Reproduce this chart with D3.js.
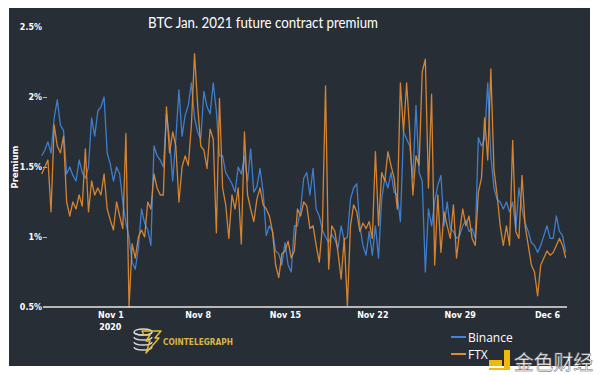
<!DOCTYPE html>
<html>
<head>
<meta charset="utf-8">
<script src="https://cdn.jsdelivr.net/npm/d3@7"></script>
<style>
  body { margin: 0; background: #fff; }
  svg { display: block; }
</style>
</head>
<body>
<svg id="chart" width="600" height="375"></svg>
<script>
// sampled every 6 hours from Oct 26 2020 12:00 UTC
const startTime = Date.UTC(2020, 9, 26, 12);
const stepHours = 6;

const binance = [
  1.58, 1.62, 1.68, 1.60, 1.85, 1.98, 1.80, 1.76, 1.45, 1.50,
  1.44, 1.40, 1.55, 1.46, 1.42, 1.50, 1.85, 1.72, 1.90, 1.93,
  2.00, 1.60, 1.52, 1.40, 1.50, 1.45, 1.25, 1.10, 1.00, 0.82,
  0.77, 0.92, 1.20, 1.10, 1.05, 0.94, 1.65, 1.58, 1.55, 1.50,
  1.88, 1.70, 1.40, 1.70, 2.05, 1.72, 1.87, 1.94, 2.10, 1.85,
  1.75, 1.70, 2.04, 1.93, 1.88, 2.10, 1.90, 1.58, 1.58, 1.46,
  1.42, 1.38, 1.32, 1.50, 1.45, 1.58, 1.40, 1.63, 1.32, 1.36,
  1.49, 1.32, 1.01, 1.08, 1.04, 0.90, 0.88, 0.80, 0.96, 0.80,
  0.75, 1.08, 1.08, 1.20, 1.42, 1.46, 1.30, 1.49, 1.20, 1.15,
  1.05, 1.00, 0.96, 1.02, 0.98, 0.92, 1.08, 0.98, 1.00, 1.27,
  1.35, 1.38, 1.08, 0.94, 0.87, 1.04, 0.87, 1.08, 0.85, 1.27,
  1.42, 1.35, 1.46, 1.32, 1.30, 1.11, 1.75, 1.70, 1.65, 1.42,
  1.94, 1.46, 1.40, 0.75, 1.20, 1.08, 1.25, 1.37, 1.44, 1.08,
  1.25, 1.06, 1.04, 0.99, 1.01, 1.08, 1.12, 1.04, 1.06, 0.99,
  1.71, 1.65, 1.70, 2.10, 1.58, 1.35, 1.27, 1.25, 1.20, 1.25,
  1.18, 1.25, 1.06, 1.35, 1.20, 1.10, 1.04, 0.96, 0.94, 0.89,
  0.94, 1.01, 1.08, 0.99, 0.99, 1.15, 1.04, 1.01, 0.89
];

const ftx = [
  1.45, 1.50, 1.55, 1.18, 1.80, 1.65, 1.60, 1.72, 1.25, 1.15,
  1.25, 1.20, 1.30, 1.22, 1.63, 1.18, 1.40, 1.30, 1.35, 1.30,
  1.45, 1.20, 1.12, 1.05, 1.25, 1.15, 1.06, 1.74, 0.50, 0.95,
  0.85, 1.00, 1.05, 1.00, 1.25, 1.20, 1.45, 1.35, 1.30, 1.30,
  1.93, 1.60, 1.75, 1.65, 1.25, 1.50, 1.58, 1.51, 1.80, 2.31,
  1.94, 1.65, 1.62, 1.49, 1.77, 1.70, 1.03, 1.99, 1.35, 1.23,
  0.99, 1.30, 1.20, 1.35, 0.95, 1.75, 1.30, 1.20, 1.11, 1.27,
  1.35, 1.23, 1.20, 1.15, 1.04, 0.80, 0.71, 0.88, 0.90, 0.97,
  0.85, 0.90, 1.20, 1.15, 1.25, 1.22, 1.06, 1.08, 0.94, 0.82,
  1.08, 2.08, 0.77, 1.08, 1.04, 0.89, 0.70, 0.99, 0.51, 1.08,
  1.23, 1.18, 1.04, 1.10, 1.06, 1.11, 0.99, 1.61, 1.08, 1.46,
  1.40, 1.61, 1.51, 1.42, 1.20, 2.10, 1.75, 2.10, 1.75, 1.30,
  1.58, 1.51, 2.18, 2.27, 1.35, 2.02, 0.80, 1.30, 0.89, 1.18,
  1.08, 0.99, 1.23, 0.85, 1.04, 1.20, 1.08, 1.15, 0.99, 0.94,
  1.32, 1.42, 1.85, 1.55, 2.20, 1.48, 1.30, 1.08, 0.94, 1.08,
  0.94, 1.69, 1.04, 0.99, 1.44, 1.08, 0.94, 0.80, 0.75, 0.58,
  0.80, 0.85, 0.90, 0.87, 0.89, 0.94, 0.99, 0.94, 0.85
];

const yTicks = [0.5, 1, 1.5, 2, 2.5];
const xTicks = [
  Date.UTC(2020, 10, 1), Date.UTC(2020, 10, 8), Date.UTC(2020, 10, 15),
  Date.UTC(2020, 10, 22), Date.UTC(2020, 10, 29), Date.UTC(2020, 11, 6)
];
const seriesNames = ["Binance", "FTX"];
const seriesColors = ["#3f86da", "#e48b30"];

const svg = d3.select("#chart");

// dark panel
svg.append("rect")
  .attr("x", 9).attr("y", 8)
  .attr("width", 581).attr("height", 358)
  .attr("fill", "#282e36");

const x = d3.scaleUtc()
  .domain([startTime, Date.UTC(2020, 11, 7, 12)])
  .range([41.7, 565.7]);

const y = d3.scaleLinear()
  .domain([0.5, 2.5])
  .range([307, 27]);

const timeOf = (i) => startTime + i * stepHours * 3600 * 1000;

// y axis
const yAxis = svg.append("g")
  .attr("transform", "translate(47,0)")
  .call(d3.axisLeft(y).tickValues(yTicks).tickSize(4).tickPadding(1)
    .tickFormat((d) => d + "%"));
yAxis.select(".domain").remove();
yAxis.selectAll(".tick line").attr("stroke", "#bbb")
  .attr("opacity", (d) => (d === 2.5 || d === 0.5) ? 0 : 1);
yAxis.selectAll(".tick text")
  .attr("fill", "#fff")
  .style("font-family", "DejaVu Sans")
  .style("font-weight", "bold")
  .style("font-size", "8px");

// lines
const line = d3.line()
  .x((d, i) => x(timeOf(i)))
  .y((d) => y(d));

[binance, ftx].forEach((values, k) => {
  svg.append("path")
    .datum(values)
    .attr("fill", "none")
    .attr("stroke", seriesColors[k])
    .attr("stroke-width", 1.3)
    .attr("stroke-opacity", 0.92)
    .attr("stroke-linejoin", "round")
    .attr("d", line);
});

// x axis
const xAxis = svg.append("g")
  .attr("transform", "translate(0,307)")
  .call(d3.axisBottom(x).tickValues(xTicks).tickSize(0).tickPadding(5)
    .tickFormat((d) => {
      const t = new Date(d);
      return d3.utcFormat("%b %-d")(t);
    }));
xAxis.select(".domain")
  .attr("d", "M43,0H567")
  .attr("stroke", "#e6e6e6")
  .attr("stroke-width", 1.5);
xAxis.selectAll(".tick text")
  .attr("fill", "#fff")
  .style("font-family", "DejaVu Sans")
  .style("font-weight", "bold")
  .style("font-size", "8px");
svg.append("text")
  .attr("x", x(xTicks[0])).attr("y", 330)
  .attr("text-anchor", "middle")
  .attr("fill", "#fff")
  .style("font-family", "DejaVu Sans")
  .style("font-weight", "bold")
  .style("font-size", "8px")
  .text("2020");

// title
svg.append("text")
  .attr("x", 148).attr("y", 28)
  .attr("fill", "#fff")
  .attr("textLength", 230)
  .attr("lengthAdjust", "spacingAndGlyphs")
  .style("font-family", "Lato")
  .style("font-size", "14.5px")
  .text("BTC Jan. 2021 future contract premium");

// y axis title
svg.append("text")
  .attr("transform", "translate(18,167) rotate(-90)")
  .attr("text-anchor", "middle")
  .attr("fill", "#fff")
  .style("font-family", "DejaVu Sans")
  .style("font-weight", "bold")
  .style("font-size", "8.5px")
  .text("Premium");

// legend
const legend = svg.append("g").attr("transform", "translate(451,337)");
seriesNames.forEach((name, k) => {
  const row = legend.append("g").attr("transform", `translate(0,${k * 17})`);
  row.append("line")
    .attr("x1", 0).attr("x2", 15)
    .attr("stroke", seriesColors[k])
    .attr("stroke-width", 2);
  row.append("text")
    .attr("x", 17).attr("y", 4.5)
    .attr("fill", "#fff")
    .style("font-family", "Open Sans")
    .style("font-size", "12px")
    .text(name);
});

// cointelegraph mark
const logo = svg.append("g").attr("transform", "translate(134,329)");
[0, 5, 10, 15].forEach((dy) => {
  logo.append("path")
    .attr("d", `M0,${dy + 3} a9,3 0 0,0 18,0`)
    .attr("fill", "none")
    .attr("stroke", "#d8d8d8")
    .attr("stroke-width", 1.3);
});
logo.append("ellipse")
  .attr("cx", 9).attr("cy", 3).attr("rx", 9).attr("ry", 3)
  .attr("fill", "none").attr("stroke", "#d8d8d8").attr("stroke-width", 1.3);
logo.append("path")
  .attr("d", "M8,2 L27,2 L21,9 L25,9 L12,24 L16,12 L12,12 L16,6 L10,6 Z")
  .attr("fill", "none")
  .attr("stroke", "#e6c13a")
  .attr("stroke-width", 1.4)
  .attr("stroke-linejoin", "round");
svg.append("text")
  .attr("x", 163).attr("y", 345)
  .attr("fill", "#d9b646")
  .attr("textLength", 70)
  .attr("lengthAdjust", "spacingAndGlyphs")
  .style("font-family", "DejaVu Sans")
  .style("font-weight", "bold")
  .style("font-size", "8.5px")
  .text("COINTELEGRAPH");

// watermark
const mark = svg.append("g").attr("transform", "translate(489,350)");
mark.append("path")
  .attr("d", "M0,10 H13 V16 H0 Z M15,0 H21 V20 H0 V18 H15 Z")
  .attr("fill", "#f0b90b");
svg.append("text")
  .attr("x", 514).attr("y", 370)
  .attr("fill", "#fff")
  .attr("stroke", "#666")
  .attr("stroke-width", 0.5)
  .attr("textLength", 79)
  .attr("lengthAdjust", "spacingAndGlyphs")
  .style("font-family", "Noto Sans CJK SC")
  .style("font-size", "20px")
  .text("金色财经");
</script>
</body>
</html>
